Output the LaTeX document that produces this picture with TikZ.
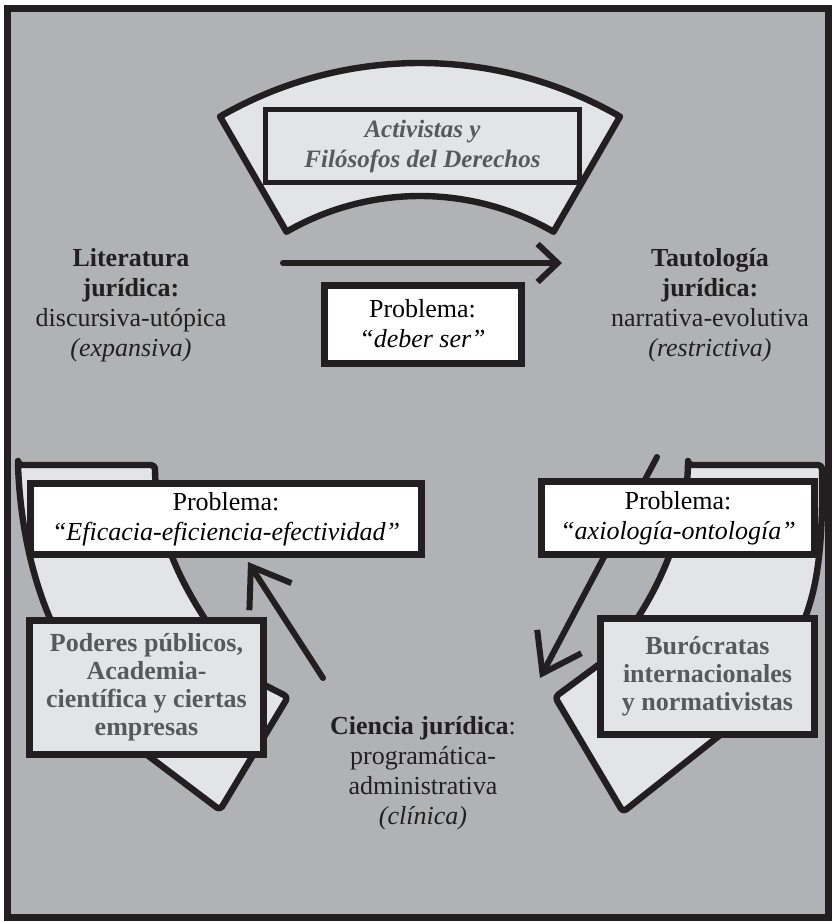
\documentclass[tikz,border=0pt]{standalone}
\usepackage{fontspec}
\setmainfont{Liberation Serif}
\usetikzlibrary{arrows.meta}
\definecolor{BG}{HTML}{B1B2B5}
\definecolor{F1}{HTML}{E3E4E6}
\definecolor{T1}{HTML}{58595B}
\definecolor{K1}{HTML}{231F20}

\begin{document}
\begin{tikzpicture}[
	x=0.5pt, y=-0.5pt,
	font=\fontsize{13}{15}\selectfont,
	band/.style = {draw=K1, fill=F1, line width=3.2pt, line join=round},
	pbox/.style = {draw=K1, fill=white, line width=3.5pt, align=center, inner sep=0pt},
	gbox/.style = {draw=K1, fill=F1, line width=3.5pt, align=center, inner sep=0pt, text=T1, font=\fontsize{13}{14}\selectfont\bfseries},
	stage/.style = {align=center, inner sep=0pt, text=K1},
	flow/.style = {draw=K1, line width=3pt, line cap=round, -{Straight Barb[length=18pt, width=25pt]}}
]
  % Frame
  \fill[white] (0,0) rectangle (832,922);
  \draw[draw=K1, fill=BG, line width=3.5pt] (7.5,8.5) rectangle (828.5,917.5);
  \useasboundingbox (0,0) rectangle (832,922);

  % Bands
  \coordinate (bc) at (420,463);
  \draw[band] ([shift={(240:400)}]bc) arc[start angle=240, end angle=300, radius=400]
    -- ([shift={(300:267)}]bc) arc[start angle=300, end angle=240, radius=267] -- cycle;
  \draw[band, rounded corners=2pt] (18,465) -- (155,465) -- (155,472) .. controls (158,540) and (180,590) .. (245,675)
    -- (288,697) -- (220,810) -- (130,742) -- (95,690) .. controls (50,640) and (22,560) .. cycle;
  \draw[band, rounded corners=2pt] (688,465) -- (822,465) -- (822,472) .. controls (823,560) and (815,600) .. (795,640)
    -- (768,697) -- (623,812) -- (555,697) -- (605,660) .. controls (650,610) and (685,540) .. cycle;

  % Define vertices
  \node[gbox, line width=2.5pt, minimum width=157pt, minimum height=36.5pt, font=\fontsize{12.5}{15}\selectfont\bfseries\itshape] (activ) at (422.5,146) {Activistas y\\Filósofos del Derechos};
  \node[stage] (lit) at (131,305) {\textbf{Literatura}\\\textbf{jurídica:}\\discursiva-utópica\\\textit{(expansiva)}};
  \node[stage] (tau) at (710,305) {\textbf{Tautología}\\\textbf{jurídica:}\\narrativa-evolutiva\\\textit{(restrictiva)}};
  \node[stage] (cien) at (423,773) {\textbf{Ciencia jurídica}:\\programática-\\administrativa\\\textit{(clínica)}};
  \coordinate (a0) at (283,263);
  \coordinate (a1) at (562,263);
  \coordinate (r0) at (657,457);
  \coordinate (r1) at (540,678);
  \coordinate (l0) at (323,678);
  \coordinate (l1) at (248,562);

  % Edges
  \draw[flow, -{Straight Barb[length=10pt, width=19pt]}] (a0) -- (a1);
  \draw[flow] (r0) -- (r1);
  \draw[flow] (l0) -- (l1);

  \node[pbox, minimum width=98.5pt, minimum height=39pt] (deber) at (422.5,324) {Problema:\\\textit{“deber ser”}};
  \node[pbox, minimum width=195.5pt, minimum height=35.5pt] (efi) at (226,519) {Problema:\\\textit{“Eficacia-eficiencia-efectividad”}};
  \node[pbox, minimum width=136.5pt, minimum height=36.5pt] (axio) at (678,518) {Problema:\\\textit{“axiología-ontología”}};
  \node[gbox, minimum width=117pt, minimum height=67pt] (poder) at (146.5,687.5) {Poderes públicos,\\Academia-\\científica y ciertas\\empresas};
  \node[gbox, minimum width=107pt, minimum height=58pt] (buro) at (707.5,676.5) {Burócratas\\internacionales\\y normativistas};
\end{tikzpicture}
\end{document}
